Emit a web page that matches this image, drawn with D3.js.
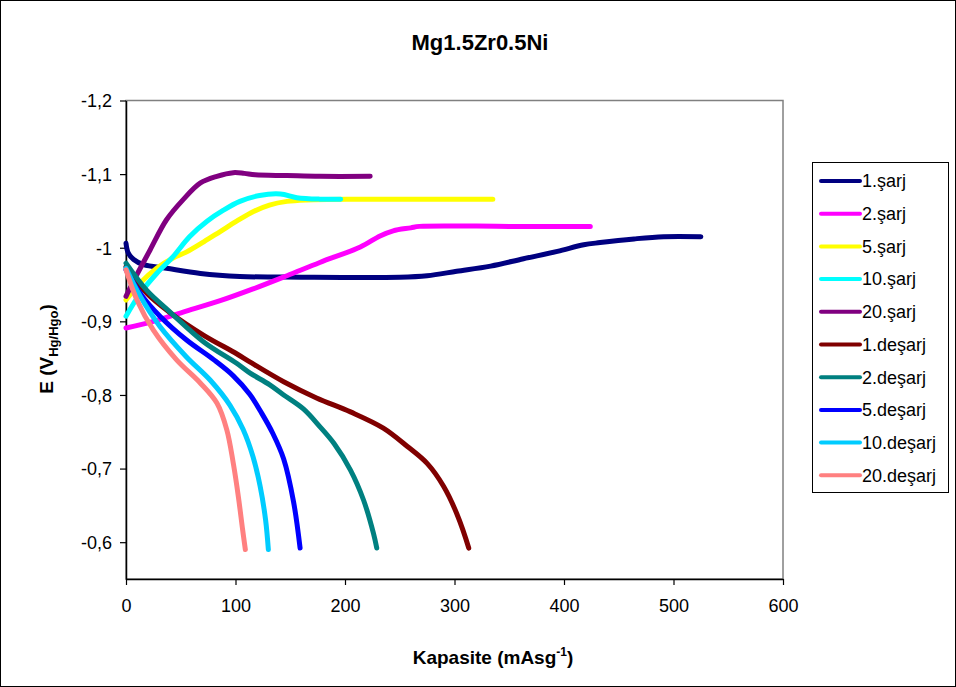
<!DOCTYPE html>
<html>
<head>
<meta charset="utf-8">
<script src="https://cdn.jsdelivr.net/npm/d3@7"></script>
<style>
  html, body { margin: 0; padding: 0; background: #fff; }
  svg { display: block; font-family: Arial, "Liberation Sans", sans-serif; }
</style>
</head>
<body>
<svg id="chart" width="956" height="687"></svg>
<script>
// Capacity (mAs/g) vs potential E (V vs Hg/HgO) for Mg1.5Zr0.5Ni, charge and discharge cycles
const sarj1 = [[0,-1.006],[2,-0.993],[7,-0.984],[16,-0.977],[37,-0.972],[68,-0.965],[104,-0.961],[160,-0.960],[250,-0.960],[275,-0.962],[302,-0.968],[333,-0.975],[363,-0.985],[394,-0.995],[418,-1.004],[433,-1.007],[464,-1.012],[491,-1.015],[525,-1.015]];
const sarj2 = [[0,-0.891],[25,-0.900],[55,-0.914],[86,-0.928],[116,-0.944],[147,-0.962],[177,-0.980],[214,-1.001],[232,-1.016],[244,-1.023],[260,-1.027],[268,-1.029],[350,-1.029],[424,-1.029]];
const sarj5 = [[0,-0.929],[13,-0.952],[28,-0.972],[43,-0.986],[55,-0.994],[71,-1.008],[86,-1.022],[101,-1.036],[116,-1.049],[131,-1.058],[147,-1.063],[165,-1.065],[208,-1.066],[260,-1.066],[335,-1.066]];
const sarj10 = [[0,-0.907],[13,-0.938],[28,-0.965],[43,-0.988],[58,-1.015],[74,-1.036],[89,-1.051],[104,-1.063],[122,-1.071],[141,-1.073],[156,-1.068],[177,-1.066],[196,-1.066]];
const sarj20 = [[0,-0.934],[8,-0.958],[22,-0.997],[37,-1.038],[52,-1.065],[68,-1.088],[83,-1.097],[98,-1.102],[108,-1.101],[118,-1.099],[147,-1.098],[177,-1.097],[223,-1.097]];
const desarj1 = [[0,-0.974],[19,-0.938],[40,-0.912],[71,-0.881],[101,-0.856],[113,-0.845],[144,-0.818],[174,-0.796],[205,-0.777],[235,-0.755],[257,-0.730],[275,-0.707],[290,-0.676],[302,-0.639],[313,-0.592]];
const desarj2 = [[0,-0.979],[19,-0.942],[40,-0.913],[71,-0.872],[101,-0.843],[113,-0.830],[131,-0.814],[144,-0.800],[162,-0.781],[177,-0.757],[190,-0.734],[205,-0.698],[217,-0.657],[226,-0.612],[229,-0.592]];
const desarj5 = [[0,-0.970],[13,-0.938],[31,-0.907],[55,-0.875],[80,-0.848],[98,-0.826],[113,-0.801],[124,-0.775],[134,-0.748],[144,-0.713],[153,-0.655],[159,-0.592]];
const desarj10 = [[0,-0.972],[13,-0.934],[31,-0.893],[55,-0.852],[77,-0.820],[95,-0.786],[107,-0.753],[116,-0.716],[122.5,-0.676],[127.5,-0.630],[130,-0.590]];
const desarj20 = [[0,-0.970],[10,-0.929],[25,-0.888],[46,-0.848],[68,-0.816],[83,-0.789],[92,-0.753],[98,-0.707],[102.6,-0.662],[106.5,-0.617],[109,-0.590]];

const seriesNames = ["1.şarj","2.şarj","5.şarj","10.şarj","20.şarj","1.deşarj","2.deşarj","5.deşarj","10.deşarj","20.deşarj"];
const seriesData = [sarj1, sarj2, sarj5, sarj10, sarj20, desarj1, desarj2, desarj5, desarj10, desarj20];
const seriesColors = ["#000080","#FF00FF","#FFFF00","#00FFFF","#800080","#800000","#008080","#0000FF","#00CCFF","#FF8080"];

const xTicks = [0,100,200,300,400,500,600];
const yTicks = [-1.2,-1.1,-1.0,-0.9,-0.8,-0.7,-0.6];

const svg = d3.select("#chart");
const W = 956, H = 687;
const plot = { left: 126, top: 100.5, right: 783, bottom: 579 };

// outer chart frame
svg.append("rect").attr("x", 0.5).attr("y", 0.5).attr("width", W - 1).attr("height", H - 1)
  .attr("fill", "#fff").attr("stroke", "#000").attr("stroke-width", 1);

const x = d3.scaleLinear().domain([0, 600]).range([plot.left, plot.right]);
const y = d3.scaleLinear().domain([-1.2, -0.55]).range([plot.top, plot.bottom]);

// plot area border
svg.append("rect").attr("x", plot.left).attr("y", plot.top)
  .attr("width", plot.right - plot.left).attr("height", plot.bottom - plot.top)
  .attr("fill", "none").attr("stroke", "#808080").attr("stroke-width", 1.5);

// comma decimals with a plain hyphen for the minus sign
const fmt = v => (Math.abs(v + 1) < 1e-9 ? "-1" : "-" + Math.abs(v).toFixed(1).replace(".", ","));

const yAxis = svg.append("g").attr("transform", `translate(${plot.left},0)`)
  .call(d3.axisLeft(y).tickValues(yTicks).tickSize(6).tickSizeOuter(0).tickFormat(fmt).tickPadding(8));
const xAxis = svg.append("g").attr("transform", `translate(0,${plot.bottom})`)
  .call(d3.axisBottom(x).tickValues(xTicks).tickSize(6).tickSizeOuter(0).tickPadding(14));
[xAxis, yAxis].forEach(a => {
  a.selectAll("path.domain").attr("stroke", "#000").attr("stroke-width", 1.5);
  a.selectAll(".tick line").attr("stroke", "#000").attr("stroke-width", 1.2);
  a.selectAll("text").attr("font-size", 18).attr("fill", "#000").style("font-family", "Arial, 'Liberation Sans', sans-serif");
});
yAxis.selectAll("text").attr("dy", "0.35em");

const line = d3.line().x(d => x(d[0])).y(d => y(d[1])).curve(d3.curveCatmullRom.alpha(0.5));

svg.append("g").selectAll("path").data(seriesData).join("path")
  .attr("d", line)
  .attr("fill", "none")
  .attr("stroke", (d, i) => seriesColors[i])
  .attr("stroke-width", 5)
  .attr("stroke-linecap", "round")
  .attr("stroke-linejoin", "round");

// title
svg.append("text").attr("x", 480).attr("y", 50).attr("text-anchor", "middle")
  .attr("font-size", 22).attr("font-weight", "bold").text("Mg1.5Zr0.5Ni");

// x axis title
const xt = svg.append("text").attr("x", 493).attr("y", 664).attr("text-anchor", "middle")
  .attr("font-size", 19).attr("font-weight", "bold");
xt.append("tspan").text("Kapasite (mAsg");
xt.append("tspan").attr("font-size", 12).attr("dy", -8).text("-1");
xt.append("tspan").attr("dy", 8).text(")");

// y axis title
const yt = svg.append("text").attr("transform", "translate(53,349) rotate(-90)")
  .attr("text-anchor", "middle").attr("font-size", 19).attr("font-weight", "bold");
yt.append("tspan").text("E (V");
yt.append("tspan").attr("font-size", 13).attr("dy", 5).text("Hg/Hgo");
yt.append("tspan").attr("dy", -5).text(")");

// legend
const lg = svg.append("g");
lg.append("rect").attr("x", 812.5).attr("y", 162.5).attr("width", 136).attr("height", 330)
  .attr("fill", "#fff").attr("stroke", "#000").attr("stroke-width", 1);
const items = lg.selectAll("g.item").data(seriesNames).join("g")
  .attr("transform", (d, i) => `translate(0,${181 + i * 32.7})`);
items.append("line").attr("x1", 821).attr("x2", 860).attr("y1", 0).attr("y2", 0)
  .attr("stroke", (d, i) => seriesColors[i]).attr("stroke-width", 4).attr("stroke-linecap", "round");
items.append("text").attr("x", 862).attr("y", 0).attr("dy", "0.35em")
  .attr("font-size", 18).text(d => d);
</script>
</body>
</html>
